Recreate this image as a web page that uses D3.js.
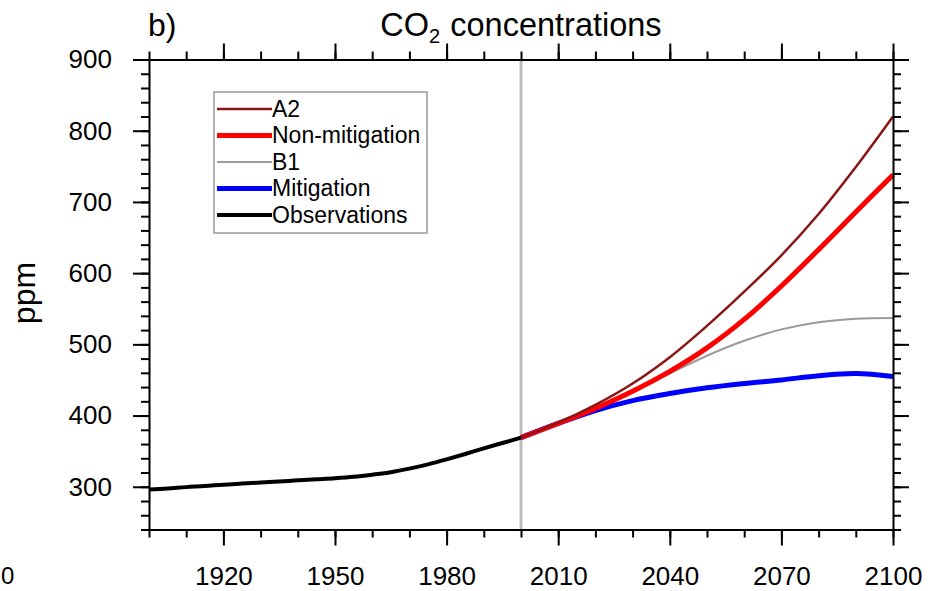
<!DOCTYPE html>
<html>
<head>
<meta charset="utf-8">
<script src="https://cdn.jsdelivr.net/npm/d3@7"></script>
<style>
  body { margin: 0; background: #fff; }
  svg { display: block; font-family: "Liberation Sans", Arial, Helvetica, sans-serif; }
</style>
</head>
<body>
<div id="chart"></div>
<script>
// observed CO2 (ppm), 5-yearly
const obsYears = [1900, 1905, 1910, 1915, 1920, 1925, 1930, 1935, 1940, 1945, 1950,
  1955, 1960, 1965, 1970, 1975, 1980, 1985, 1990, 1995, 2000];
const obsValues = [296, 297.5, 299.5, 301, 303, 304.5, 306, 307.5, 309, 310.5, 312,
  314, 317, 320.5, 325.5, 331.5, 338.5, 346, 354, 361.5, 369];

// scenario CO2 (ppm), decadal
const scenYears = [2000, 2010, 2020, 2030, 2040, 2050, 2060, 2070, 2080, 2090, 2100];
const a2Values = [369, 390, 415, 445, 482, 526, 574, 625, 683, 749, 820];
const nonMitValues = [369, 389, 410, 434, 462, 495, 535, 582, 633, 686, 738];
const b1Values = [369, 389, 410, 433, 459, 484, 505, 521, 531, 536, 537];
const mitValues = [369, 389, 407, 421, 431, 439, 445, 450, 456, 459, 455];

const xMajorTicks = [1920, 1950, 1980, 2010, 2040, 2070, 2100];
const yMajorTicks = [300, 400, 500, 600, 700, 800, 900];

const series = [
  { name: 'Mitigation', years: scenYears, values: mitValues, color: '#0000ff', width: 5 },
  { name: 'B1', years: scenYears, values: b1Values, color: '#9a9a9a', width: 2 },
  { name: 'Non-mitigation', years: scenYears, values: nonMitValues, color: '#ff0000', width: 5 },
  { name: 'A2', years: scenYears, values: a2Values, color: '#8b1414', width: 2.5 },
  { name: 'Observations', years: obsYears, values: obsValues, color: '#000000', width: 4 }
];
const legendOrder = ['A2', 'Non-mitigation', 'B1', 'Mitigation', 'Observations'];

const width = 931, height = 591;
const x = d3.scaleLinear().domain([1900, 2100]).range([149, 893]);
const y = d3.scaleLinear().domain([240, 900]).range([529.5, 59.5]);

const svg = d3.select('#chart').append('svg')
  .attr('width', width)
  .attr('height', height);

// label left over from the neighbouring panel
svg.append('text')
  .attr('x', 1).attr('y', 584)
  .attr('font-size', 24)
  .text('0');

// titles
svg.append('text')
  .attr('x', 148).attr('y', 36)
  .attr('font-size', 32)
  .text('b)');

const title = svg.append('text')
  .attr('x', (x.range()[0] + x.range()[1]) / 2).attr('y', 36)
  .attr('text-anchor', 'middle')
  .attr('font-size', 32.5);
title.append('tspan').text('CO');
title.append('tspan').attr('font-size', 20).attr('dy', 7).text('2');
title.append('tspan').attr('dy', -7).attr('dx', 10).text('concentrations');

svg.append('text')
  .attr('transform', 'translate(35,293) rotate(-90)')
  .attr('text-anchor', 'middle')
  .attr('font-size', 32)
  .text('ppm');

// 2000 marker
svg.append('line')
  .attr('x1', x(2000)).attr('x2', x(2000))
  .attr('y1', y(900)).attr('y2', y(240))
  .attr('stroke', '#bdbdbd')
  .attr('stroke-width', 3);

// lines
const line = d3.line()
  .x(d => x(d[0]))
  .y(d => y(d[1]))
  .curve(d3.curveCatmullRom.alpha(0.5));

svg.selectAll('path.series').data(series).join('path')
  .attr('class', 'series')
  .attr('fill', 'none')
  .attr('stroke', d => d.color)
  .attr('stroke-width', d => d.width)
  .attr('stroke-linejoin', 'round')
  .attr('d', d => line(d.years.map((yr, i) => [yr, d.values[i]])));

// axes: minor + major ticks on all four sides, pointing out
function styleAxis(g) {
  g.selectAll('path, line').attr('stroke', '#000').attr('stroke-width', 2);
  g.selectAll('text').attr('font-size', 26).attr('fill', '#000')
    .attr('font-family', '"Liberation Sans", Arial, Helvetica, sans-serif');
}
const xMinor = d3.range(1900, 2101, 10);
const yMinor = d3.range(240, 901, 20);

const axes = [
  { axis: d3.axisBottom(x), at: `translate(0,${y(240)})`, minor: xMinor, major: xMajorTicks, labels: true },
  { axis: d3.axisTop(x), at: `translate(0,${y(900)})`, minor: xMinor, major: xMajorTicks, labels: false },
  { axis: d3.axisLeft(y), at: `translate(${x(1900)},0)`, minor: yMinor, major: yMajorTicks, labels: true },
  { axis: d3.axisRight(y), at: `translate(${x(2100)},0)`, minor: yMinor, major: yMajorTicks, labels: false }
];
axes.forEach(a => {
  svg.append('g').attr('transform', a.at)
    .call(a.axis.tickValues(a.minor).tickSize(8).tickSizeOuter(0).tickFormat(''))
    .call(styleAxis);
  const g = svg.append('g').attr('transform', a.at)
    .call(a.axis.tickValues(a.major).tickSize(16).tickSizeOuter(0).tickPadding(21)
      .tickFormat(a.labels ? d3.format('d') : ''))
    .call(styleAxis);
  g.select('.domain').remove();
});

// legend
const legend = svg.append('g').attr('transform', 'translate(214,92)');
legend.append('rect')
  .attr('width', 213).attr('height', 141)
  .attr('fill', '#fff')
  .attr('stroke', '#999')
  .attr('stroke-width', 1.5);
const items = legendOrder.map(n => series.find(s => s.name === n));
const row = legend.selectAll('g.item').data(items).join('g')
  .attr('class', 'item')
  .attr('transform', (d, i) => `translate(0,${17 + i * 26.5})`);
row.append('line')
  .attr('x1', 3).attr('x2', 58)
  .attr('stroke', d => d.color)
  .attr('stroke-width', d => d.width);
row.append('text')
  .attr('x', 58).attr('y', 7.5)
  .attr('font-size', 23)
  .text(d => d.name);
</script>
</body>
</html>
